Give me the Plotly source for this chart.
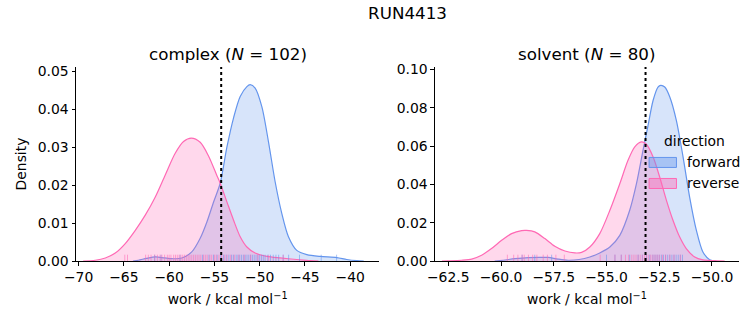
import plotly.graph_objects as go
from plotly.subplots import make_subplots

# ---- density estimates of the work distributions (x = work, y = density) ----
complex_fwd_x = [-64.0, -63.4, -62.5, -61.5, -60.5, -59.7, -58.6, -57.5, -56.57, -55.83, -55.1,
                 -54.36, -53.62, -52.89, -52.15, -51.41, -51.05, -50.5, -49.76, -49.03, -48.29,
                 -47.55, -46.82, -45.9, -44.79, -43.32, -41.48, -40.38, -39.27, -38.5]
complex_fwd_y = [0.0, 0.0002, 0.0007, 0.0011, 0.0008, 0.0006, 0.0008, 0.0024, 0.0060, 0.0103, 0.0155,
                 0.0205, 0.0300, 0.0377, 0.0434, 0.0460, 0.0465, 0.0456, 0.0407, 0.0315, 0.0209,
                 0.0125, 0.0064, 0.0028, 0.0017, 0.0012, 0.0009, 0.0004, 0.0001, 0.0]

complex_rev_x = [-69.5, -68.16, -67.05, -65.95, -64.85, -63.74, -62.64, -61.53, -60.43, -59.33,
                 -58.41, -57.56, -56.57, -55.65, -54.72, -54.36, -53.62, -52.89, -52.15, -51.41,
                 -50.5, -49.2, -47.75, -45.9, -44.4, -43.5]
complex_rev_y = [0.0, 0.0002, 0.0008, 0.0021, 0.0046, 0.0081, 0.0121, 0.0169, 0.0227, 0.0284,
                 0.0315, 0.0324, 0.0313, 0.0277, 0.0225, 0.0205, 0.0156, 0.0108, 0.0064, 0.0037,
                 0.0021, 0.0012, 0.0008, 0.0004, 0.0001, 0.0]

solvent_fwd_x = [-60.3, -59.9, -59.34, -58.7, -58.1, -57.77, -57.3, -56.82, -56.3, -55.79, -55.32,
                 -54.84, -54.37, -53.9, -53.58, -53.27, -53.03, -52.79, -52.56, -52.43, -52.24,
                 -52.0, -51.69, -51.37, -51.06, -50.74, -50.43, -50.11, -49.8]
solvent_fwd_y = [0.0, 0.0004, 0.0012, 0.0018, 0.0019, 0.0019, 0.0010, 0.0004, 0.0008, 0.0021, 0.0042,
                 0.0073, 0.0134, 0.0265, 0.0404, 0.0578, 0.0709, 0.0840, 0.0909, 0.0918, 0.0909,
                 0.0857, 0.0735, 0.0543, 0.0334, 0.0160, 0.0047, 0.0007, 0.0]

solvent_rev_x = [-62.8, -62.5, -61.87, -61.39, -60.92, -60.45, -59.97, -59.5, -59.02, -58.79, -58.4,
                 -57.92, -57.45, -56.97, -56.5, -56.18, -55.79, -55.32, -54.84, -54.37, -53.98,
                 -53.66, -53.35, -53.11, -52.79, -52.48, -52.16, -51.85, -51.53, -51.22, -50.82,
                 -50.43, -49.95, -49.4]
solvent_rev_y = [0.0, 0.0001, 0.0004, 0.0010, 0.0030, 0.0065, 0.0108, 0.0143, 0.0159, 0.0160, 0.0152,
                 0.0117, 0.0077, 0.0052, 0.0042, 0.0045, 0.0073, 0.0143, 0.0265, 0.0404, 0.0526,
                 0.0596, 0.0622, 0.0610, 0.0543, 0.0439, 0.0317, 0.0213, 0.0125, 0.0065, 0.0021,
                 0.0006, 0.0002, 0.0]

# ---- individual work values (rug) ----
complex_fwd_work = [-61.6, -60.9, -58.8, -56.3, -55.6, -55.1, -54.7, -54.3, -54.0, -53.7, -53.4,
                    -53.1, -52.9, -52.6, -52.4, -52.2, -52.0, -51.8, -51.6, -51.4, -51.2, -51.0,
                    -50.8, -50.6, -50.4, -50.2, -50.0, -49.8, -49.6, -49.4, -49.1, -48.8, -48.5,
                    -48.2, -47.9, -47.4, -46.8, -45.6, -43.2, -41.5]
complex_rev_work = [-64.9, -64.6, -62.6, -62.3, -62.0, -61.6, -61.3, -61.0, -60.8, -60.5, -60.2,
                    -60.0, -59.8, -59.5, -59.3, -59.1, -58.9, -58.7, -58.5, -58.3, -58.1, -57.9,
                    -57.7, -57.5, -57.3, -57.1, -56.9, -56.7, -56.5, -56.2, -56.0, -55.8, -55.5,
                    -55.3, -55.0, -54.8, -54.5, -54.2, -53.9, -53.6, -53.2, -52.8, -52.3, -51.7,
                    -51.0, -50.2, -49.0, -47.4]
solvent_fwd_work = [-59.0, -58.4, -57.6, -55.0, -54.6, -54.3, -53.9, -53.5, -53.3, -53.1, -52.95,
                    -52.8, -52.7, -52.6, -52.5, -52.4, -52.3, -52.2, -52.1, -52.0, -51.9, -51.8,
                    -51.7, -51.6, -51.5, -51.4]
solvent_rev_work = [-59.7, -59.4, -59.2, -59.0, -58.9, -58.7, -58.5, -58.3, -58.0, -57.8, -57.4,
                    -57.0, -55.3, -54.6, -54.3, -54.1, -53.95, -53.8, -53.7, -53.6, -53.5, -53.4,
                    -53.3, -53.2, -53.1, -53.0, -52.9, -52.8, -52.7, -52.6, -52.5, -52.35, -52.2,
                    -52.0, -51.8, -51.5]

# free-energy estimates (dotted lines)
complex_dg = -54.25
solvent_dg = -53.15

panel_titles = ["complex (<i>N</i> = 102)", "solvent (<i>N</i> = 80)"]
directions = ["forward", "reverse"]
legend_title = "direction"
line_colors = {"forward": "#6495ED", "reverse": "#FF69B4"}
fill_colors = {"forward": "rgba(100,149,237,0.26)", "reverse": "rgba(255,105,180,0.26)"}
patch_colors = {"forward": "rgba(100,149,237,0.42)", "reverse": "rgba(255,105,180,0.42)"}

FONT = "DejaVu Sans"
W, H = 753, 325
L, R, T, B = 75.7, 13.7, 67.0, 64.3
plot_w = W - L - R
plot_h = H - T - B
left_dom = [0.0, (379.3 - L) / plot_w]
right_dom = [(435.0 - L) / plot_w, 1.0]


def px_x(p):
    return (p - L) / plot_w


def px_y(p):
    return 1 - (p - T) / plot_h


fig = make_subplots(rows=1, cols=2)

panels = [
    (1, {"forward": (complex_fwd_x, complex_fwd_y, complex_fwd_work),
         "reverse": (complex_rev_x, complex_rev_y, complex_rev_work)}),
    (2, {"forward": (solvent_fwd_x, solvent_fwd_y, solvent_fwd_work),
         "reverse": (solvent_rev_x, solvent_rev_y, solvent_rev_work)}),
]

for col, series in panels:
    for d in directions:
        xs, ys, works = series[d]
        fig.add_trace(go.Scatter(
            x=xs, y=ys, mode="lines", name=d, showlegend=False,
            line=dict(color=line_colors[d], width=1.2, shape="spline", smoothing=0.8),
            fill="tozeroy", fillcolor=fill_colors[d],
            hoverinfo="skip",
        ), row=1, col=col)
    for d in directions:
        works = series[d][2]
        fig.add_trace(go.Scatter(
            x=works, y=[0] * len(works), mode="markers", showlegend=False,
            marker=dict(symbol="line-ns", size=9, opacity=0.55,
                        line=dict(color=line_colors[d], width=1)),
            cliponaxis=True, hoverinfo="skip",
        ), row=1, col=col)

# dotted reference lines
for col, dg in [(1, complex_dg), (2, solvent_dg)]:
    xref = "x" if col == 1 else "x2"
    yref = "y domain" if col == 1 else "y2 domain"
    fig.add_shape(type="line", x0=dg, x1=dg, y0=0, y1=1, xref=xref, yref=yref,
                  line=dict(color="black", width=2, dash="dot"))

axis_common = dict(showline=True, linecolor="black", linewidth=1, ticks="outside",
                   ticklen=3.5, tickwidth=1, tickcolor="black", showgrid=False,
                   zeroline=False, mirror=False,
                   tickfont=dict(family=FONT, size=13.9, color="black"))

xlabel = "work / kcal mol<sup>−1</sup>"
fig.update_xaxes(axis_common, row=1, col=1, domain=left_dom, range=[-70.29, -36.78],
                 tickvals=[-70, -65, -60, -55, -50, -45, -40],
                 title=dict(text=xlabel, font=dict(family=FONT, size=13.9, color="black"), standoff=10))
fig.update_xaxes(axis_common, row=1, col=2, domain=right_dom, range=[-63.13, -48.72],
                 tickvals=[-62.5, -60, -57.5, -55, -52.5, -50], tickformat=".1f",
                 title=dict(text=xlabel, font=dict(family=FONT, size=13.9, color="black"), standoff=10))
fig.update_yaxes(axis_common, row=1, col=1, range=[0, 0.05116], tickvals=[0, 0.01, 0.02, 0.03, 0.04, 0.05],
                 tickformat=".2f",
                 title=dict(text="Density", font=dict(family=FONT, size=13.9, color="black"), standoff=7))
fig.update_yaxes(axis_common, row=1, col=2, range=[0, 0.10136],
                 tickvals=[0, 0.02, 0.04, 0.06, 0.08, 0.10], tickformat=".2f")

annotations = []
for title, dom in zip(panel_titles, [left_dom, right_dom]):
    annotations.append(dict(text=title, x=(dom[0] + dom[1]) / 2, y=1, xref="paper", yref="paper",
                            xanchor="center", yanchor="bottom", yshift=1, showarrow=False,
                            font=dict(family=FONT, size=16.7, color="black")))

# legend for the direction hue, placed inside the solvent panel
annotations.append(dict(text=legend_title, x=px_x(694.7), y=px_y(140.7), xref="paper", yref="paper",
                        xanchor="center", yanchor="middle", showarrow=False,
                        font=dict(family=FONT, size=13.9, color="black")))
legend_rows = {"forward": (162.3, 713.8), "reverse": (183.3, 713.2)}
for d in directions:
    yc, xc = legend_rows[d]
    fig.add_shape(type="rect", xref="paper", yref="paper",
                  x0=px_x(649.3), x1=px_x(676.7), y0=px_y(yc - 5), y1=px_y(yc + 5),
                  fillcolor=patch_colors[d], line=dict(color=line_colors[d], width=1))
    annotations.append(dict(text=d, x=px_x(xc), y=px_y(yc - 0.6), xref="paper", yref="paper",
                            xanchor="center", yanchor="middle", showarrow=False,
                            font=dict(family=FONT, size=13.9, color="black")))

fig.update_layout(
    width=W, height=H,
    margin=dict(l=L, r=R, t=T, b=B),
    paper_bgcolor="white", plot_bgcolor="white",
    font=dict(family=FONT, size=13.9, color="black"),
    title=dict(text="RUN4413", x=0.5, xref="paper", xanchor="center",
               y=1 - 13 / H, yref="container", yanchor="middle",
               font=dict(family=FONT, size=16.7, color="black")),
    annotations=annotations,
    showlegend=False,
)

fig.write_html("out.html")
